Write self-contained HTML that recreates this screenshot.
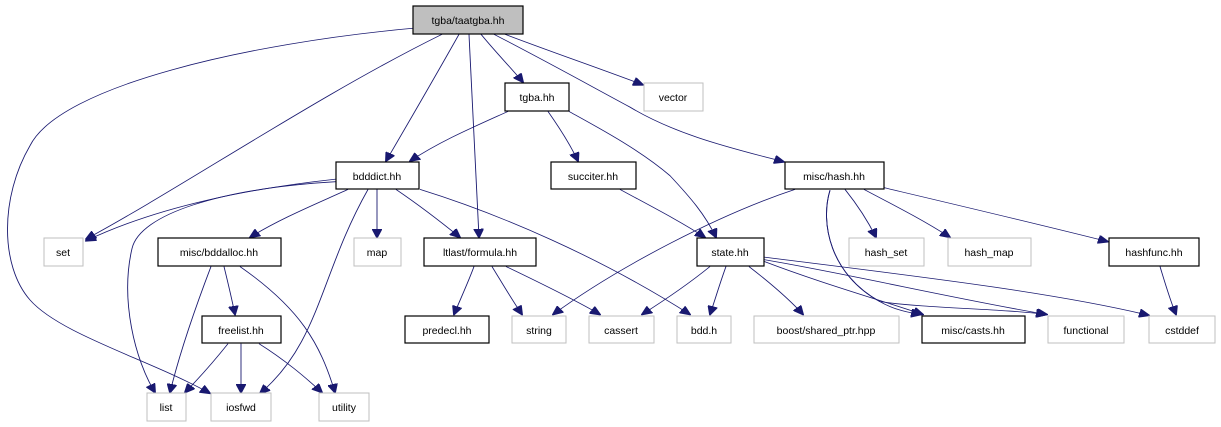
<!DOCTYPE html>
<html><head><meta charset="utf-8"><style>
html,body{margin:0;padding:0;background:#fff;overflow:hidden;}
svg{display:block;}
text{font-family:"Liberation Sans",sans-serif;font-size:10.5px;fill:#000;text-anchor:middle;}
.b{fill:#fff;stroke:#000;stroke-width:1.2;}
.g{fill:#fff;stroke:#bfbfbf;stroke-width:1;}
.e{fill:none;stroke:#191970;stroke-width:0.9;}
</style></head><body>
<svg width="1221" height="427" viewBox="0 0 1221 427" xmlns="http://www.w3.org/2000/svg">
<defs><marker id="a" markerWidth="11" markerHeight="10" refX="10" refY="5" orient="auto" markerUnits="userSpaceOnUse"><path d="M0,0 L11,5 L0,10 z" fill="#191970" stroke="#191970"/></marker></defs>
<g class="e" marker-end="url(#a)" transform="scale(1,0.857)">
<path d="M413,33 C250,50 60,100 30,170 C0,230 0,310 30,350 C60,390 150,420 210,459"/>
<path d="M442,40 C320,110 180,220 86,279"/>
<path d="M459,40 C430,100 410,140 386,188"/>
<path d="M469,40 C472,120 476,200 479,277"/>
<path d="M481,40 C495,60 510,78 523,96"/>
<path d="M505,40 C550,60 600,80 643,99"/>
<path d="M494,40 C560,80 590,100 630,125 C680,160 740,175 784,189"/>
<path d="M569,130 C600,150 640,175 670,205 C690,230 705,250 716,277"/>
<path d="M508,130 C470,150 440,165 410,188"/>
<path d="M548,130 C560,150 570,168 578,188"/>
<path d="M336,209 C250,220 160,240 86,281"/>
<path d="M336,212 C220,220 140,250 132,290 C120,350 135,420 155,458"/>
<path d="M348,221 C320,236 280,255 250,277"/>
<path d="M377,221 L377,277"/>
<path d="M396,221 C420,240 440,258 460,277"/>
<path d="M368,221 C320,320 320,400 260,459"/>
<path d="M420,221 C500,250 600,300 690,367"/>
<path d="M211,311 C195,360 180,410 170,458"/>
<path d="M224,311 C228,330 232,350 235,367"/>
<path d="M240,311 C300,360 320,400 335,458"/>
<path d="M228,401 C215,420 200,440 185,458"/>
<path d="M241,401 L241,458"/>
<path d="M259,401 C285,420 305,440 322,458"/>
<path d="M474,311 C468,330 460,350 454,367"/>
<path d="M492,311 C502,330 512,350 522,367"/>
<path d="M506,311 C540,330 575,350 600,367"/>
<path d="M620,221 C650,240 680,258 705,277"/>
<path d="M795,221 C720,250 620,310 553,367"/>
<path d="M830,222 C820,260 830,320 880,352 C895,362 910,365 921,367"/>
<path d="M830,222 C820,260 830,320 880,352 C930,360 1000,360 1046,367"/>
<path d="M845,221 C858,240 868,258 876,277"/>
<path d="M864,221 C895,240 925,258 950,277"/>
<path d="M884,219 C960,240 1040,262 1108,282"/>
<path d="M710,311 C690,330 665,350 642,367"/>
<path d="M726,311 C720,330 715,350 710,367"/>
<path d="M749,311 C770,330 790,350 803,367"/>
<path d="M764,305 C820,330 880,350 923,367"/>
<path d="M764,303 C850,320 960,350 1047,367"/>
<path d="M764,300 C900,320 1050,340 1149,368"/>
<path d="M1160,311 C1165,330 1170,350 1176,367"/>
</g>
<rect x="413" y="6" width="110" height="28" fill="#bfbfbf" stroke="#000" stroke-width="1.2"/><text x="468" y="24">tgba/taatgba.hh</text>
<rect class="b" x="505" y="83" width="64" height="28"/><text x="537" y="101">tgba.hh</text>
<rect class="g" x="644" y="83" width="59" height="28"/><text x="673" y="101">vector</text>
<rect class="b" x="336" y="162" width="83" height="27"/><text x="377" y="180">bdddict.hh</text>
<rect class="b" x="551" y="162" width="85" height="27"/><text x="593" y="180">succiter.hh</text>
<rect class="b" x="785" y="162" width="99" height="27"/><text x="834" y="180">misc/hash.hh</text>
<rect class="g" x="44" y="238" width="39" height="28"/><text x="63" y="256">set</text>
<rect class="b" x="158" y="238" width="123" height="28"/><text x="219" y="256">misc/bddalloc.hh</text>
<rect class="g" x="354" y="238" width="47" height="28"/><text x="377" y="256">map</text>
<rect class="b" x="424" y="238" width="112" height="28"/><text x="480" y="256">ltlast/formula.hh</text>
<rect class="b" x="697" y="238" width="67" height="28"/><text x="730" y="256">state.hh</text>
<rect class="g" x="849" y="238" width="75" height="28"/><text x="886" y="256">hash_set</text>
<rect class="g" x="948" y="238" width="83" height="28"/><text x="989" y="256">hash_map</text>
<rect class="b" x="1109" y="238" width="90" height="28"/><text x="1154" y="256">hashfunc.hh</text>
<rect class="b" x="202" y="316" width="79" height="27"/><text x="241" y="334">freelist.hh</text>
<rect class="b" x="405" y="316" width="84" height="27"/><text x="447" y="334">predecl.hh</text>
<rect class="g" x="512" y="316" width="54" height="27"/><text x="539" y="334">string</text>
<rect class="g" x="589" y="316" width="65" height="27"/><text x="621" y="334">cassert</text>
<rect class="g" x="677" y="316" width="54" height="27"/><text x="704" y="334">bdd.h</text>
<rect class="g" x="754" y="316" width="145" height="27"/><text x="826" y="334">boost/shared_ptr.hpp</text>
<rect class="b" x="922" y="316" width="103" height="27"/><text x="973" y="334">misc/casts.hh</text>
<rect class="g" x="1048" y="316" width="76" height="27"/><text x="1086" y="334">functional</text>
<rect class="g" x="1149" y="316" width="66" height="27"/><text x="1182" y="334">cstddef</text>
<rect class="g" x="147" y="393" width="39" height="28"/><text x="166" y="411">list</text>
<rect class="g" x="211" y="393" width="60" height="28"/><text x="241" y="411">iosfwd</text>
<rect class="g" x="319" y="393" width="50" height="28"/><text x="344" y="411">utility</text>
</svg>
</body></html>
